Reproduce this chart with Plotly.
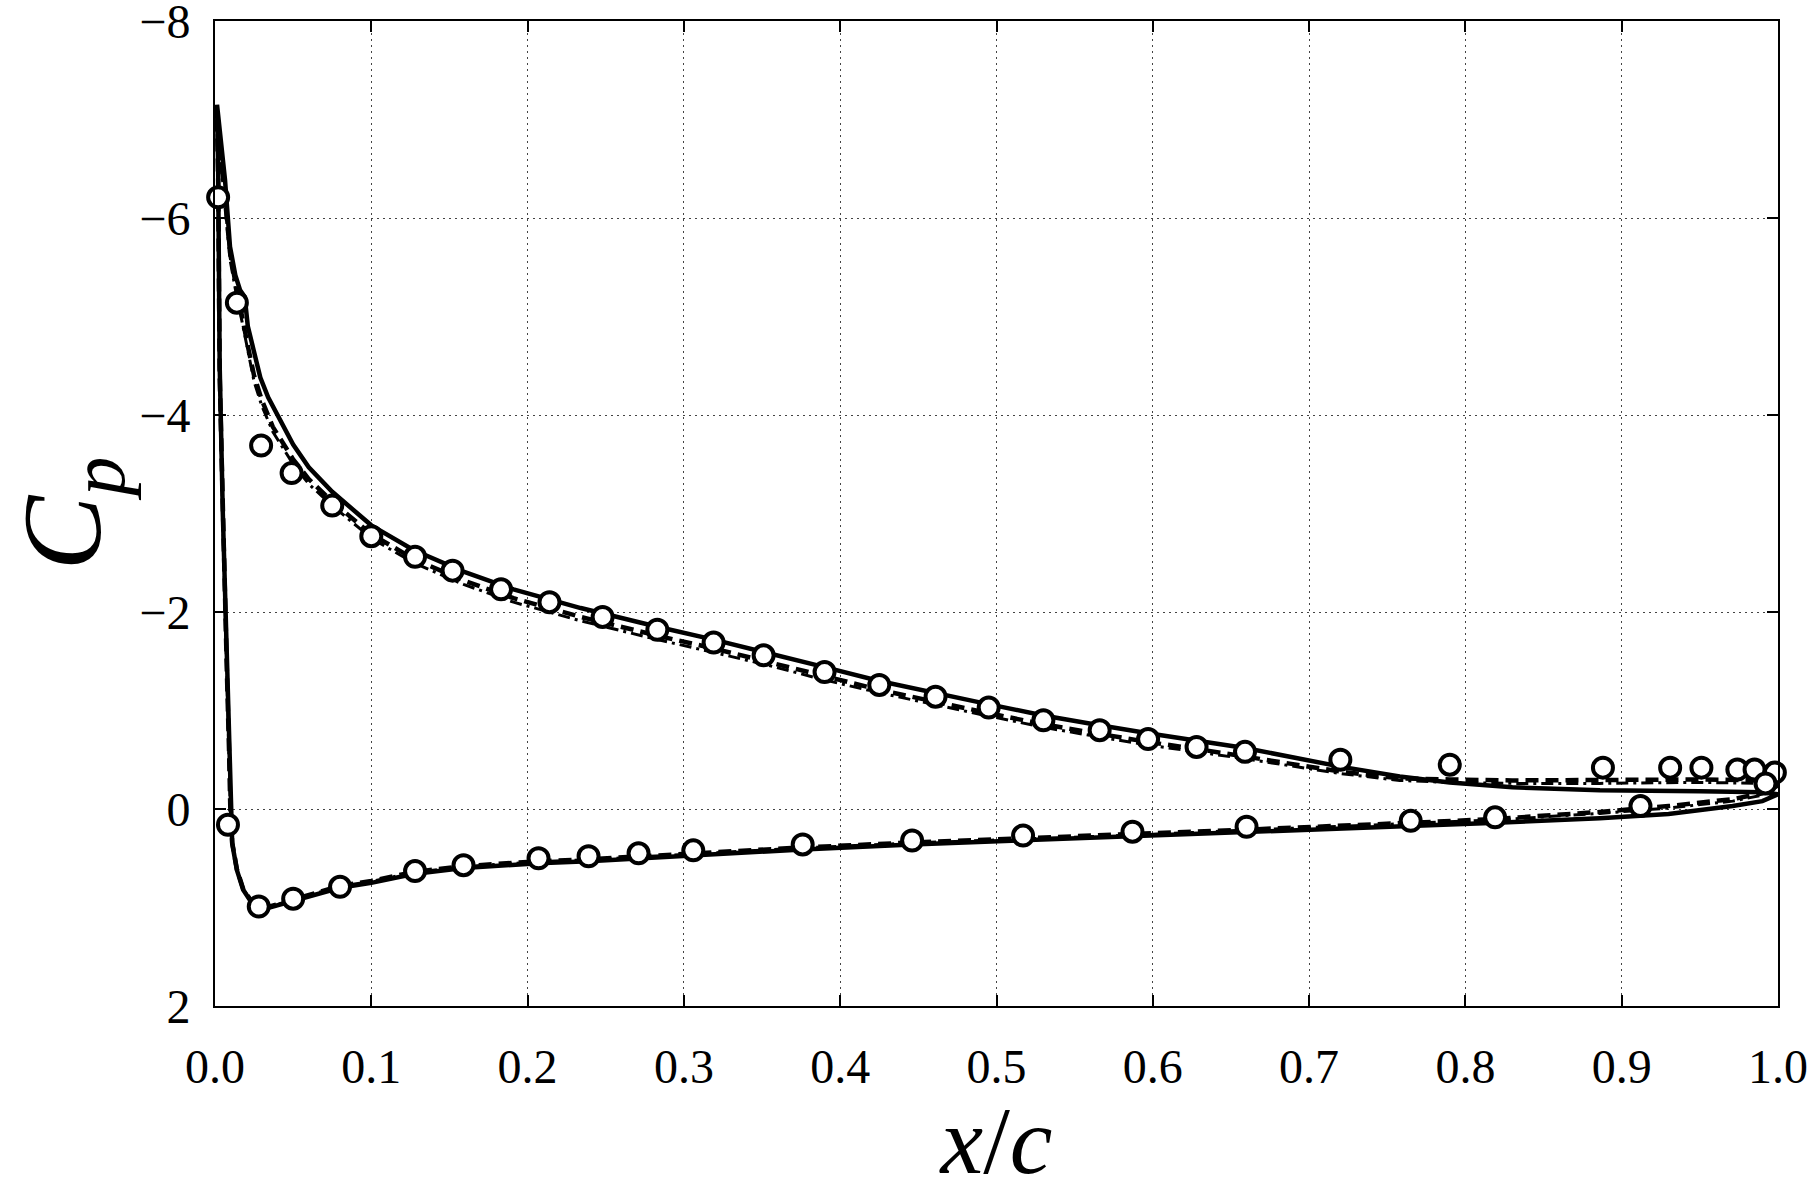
import plotly.graph_objects as go

# ---------------- data ----------------
# experiment (open circles)
exp_x_upper = [0.002, 0.014, 0.0295, 0.049, 0.075, 0.100, 0.128, 0.152, 0.183, 0.214, 0.248, 0.283, 0.319,
               0.351, 0.390, 0.425, 0.461, 0.495, 0.530, 0.566, 0.597, 0.628, 0.659, 0.720, 0.790, 0.888,
               0.931, 0.951, 0.974, 0.985, 0.998]
exp_cp_upper = [-6.21, -5.14, -3.69, -3.41, -3.08, -2.77, -2.56, -2.42, -2.23, -2.10, -1.95, -1.82, -1.69,
                -1.56, -1.39, -1.26, -1.14, -1.03, -0.90, -0.80, -0.71, -0.63, -0.58, -0.50, -0.45, -0.42,
                -0.42, -0.42, -0.40, -0.40, -0.37]
exp_x_lower = [0.0083, 0.028, 0.050, 0.080, 0.128, 0.159, 0.207, 0.239, 0.271, 0.306, 0.376, 0.446, 0.517,
               0.587, 0.660, 0.765, 0.819, 0.912, 0.992]
exp_cp_lower = [0.16, 0.99, 0.91, 0.79, 0.63, 0.57, 0.50, 0.48, 0.45, 0.42, 0.36, 0.32, 0.27,
                0.23, 0.18, 0.12, 0.085, -0.03, -0.26]

# model A (solid)
sol_x_up = [0.0013, 0.004, 0.0064, 0.0096, 0.013, 0.016, 0.019, 0.021, 0.025, 0.029, 0.034, 0.040, 0.050,
            0.060, 0.075, 0.100, 0.127, 0.159, 0.191, 0.234, 0.283, 0.319, 0.351, 0.390, 0.425, 0.461,
            0.490, 0.530, 0.566, 0.597, 0.628, 0.659, 0.720, 0.758, 0.790, 0.830, 0.886, 0.950, 0.990, 1.000]
sol_cp_up = [-7.15, -6.75, -6.39, -5.71, -5.42, -5.27, -5.20, -4.90, -4.62, -4.38, -4.18, -4.00, -3.70,
             -3.47, -3.22, -2.88, -2.63, -2.41, -2.23, -2.04, -1.85, -1.72, -1.60, -1.44, -1.30, -1.18,
             -1.08, -0.95, -0.85, -0.77, -0.69, -0.62, -0.43, -0.33, -0.27, -0.22, -0.19, -0.18, -0.17, -0.15]
sol_x_lo = [0.0013, 0.002, 0.003, 0.005, 0.0075, 0.009, 0.0098, 0.011, 0.014, 0.018, 0.023, 0.028, 0.035,
            0.050, 0.080, 0.100, 0.127, 0.159, 0.207, 0.239, 0.306, 0.376, 0.446, 0.517, 0.587, 0.659,
            0.765, 0.820, 0.886, 0.930, 0.971, 0.990, 1.000]
sol_cp_lo = [-7.15, -6.5, -4.5, -3.0, -1.5, -0.6, 0.0, 0.35, 0.62, 0.82, 0.94, 0.99, 1.00,
             0.93, 0.80, 0.75, 0.66, 0.60, 0.55, 0.53, 0.47, 0.41, 0.36, 0.32, 0.28, 0.23,
             0.175, 0.14, 0.095, 0.05, -0.03, -0.08, -0.15]

# model B (dashed)
das_x_up = [0.0013, 0.004, 0.0064, 0.0096, 0.013, 0.016, 0.018, 0.021, 0.025, 0.030, 0.037, 0.050, 0.060,
            0.075, 0.100, 0.127, 0.159, 0.191, 0.234, 0.283, 0.319, 0.351, 0.390, 0.425, 0.461, 0.490,
            0.530, 0.566, 0.597, 0.628, 0.659, 0.720, 0.758, 0.790, 0.830, 0.886, 0.950, 0.990, 1.000]
das_cp_up = [-7.0, -6.6, -6.25, -5.65, -5.35, -5.1, -4.93, -4.7, -4.4, -4.15, -3.88, -3.55, -3.35,
             -3.12, -2.79, -2.54, -2.32, -2.14, -1.95, -1.76, -1.63, -1.51, -1.35, -1.21, -1.09, -0.99,
             -0.86, -0.76, -0.68, -0.61, -0.54, -0.38, -0.31, -0.30, -0.29, -0.29, -0.30, -0.29, -0.25]
das_cp_lo = [-7.0, -6.4, -4.4, -2.95, -1.45, -0.58, 0.0, 0.34, 0.61, 0.81, 0.93, 0.98, 0.99,
             0.92, 0.78, 0.73, 0.64, 0.58, 0.53, 0.51, 0.45, 0.39, 0.34, 0.30, 0.26, 0.21,
             0.14, 0.10, 0.03, -0.03, -0.10, -0.16, -0.25]

# model C (dash-dot)
dd_cp_up = [-6.9, -6.5, -6.15, -5.58, -5.28, -5.05, -4.88, -4.64, -4.34, -4.09, -3.83, -3.50, -3.30,
            -3.08, -2.75, -2.50, -2.28, -2.10, -1.91, -1.72, -1.59, -1.47, -1.31, -1.18, -1.06, -0.96,
            -0.83, -0.73, -0.65, -0.58, -0.51, -0.36, -0.29, -0.27, -0.26, -0.26, -0.27, -0.26, -0.23]
dd_cp_lo = [-6.9, -6.3, -4.35, -2.9, -1.42, -0.56, 0.0, 0.34, 0.61, 0.81, 0.93, 0.98, 0.99,
            0.92, 0.785, 0.735, 0.645, 0.585, 0.535, 0.515, 0.455, 0.395, 0.345, 0.305, 0.265, 0.215,
            0.15, 0.11, 0.045, -0.01, -0.08, -0.14, -0.23]

x_ticks = [0.0, 0.1, 0.2, 0.3, 0.4, 0.5, 0.6, 0.7, 0.8, 0.9, 1.0]
x_tick_text = ["0.0", "0.1", "0.2", "0.3", "0.4", "0.5", "0.6", "0.7", "0.8", "0.9", "1.0"]
y_ticks = [-8, -6, -4, -2, 0, 2]
y_tick_text = ["\u22128", "\u22126", "\u22124", "\u22122", "0", "2"]


def loop(xu, cu, xl, cl):
    return list(reversed(xu)) + xl[1:], list(reversed(cu)) + cl[1:]


fig = go.Figure()

xs, cs = loop(das_x_up, dd_cp_up, sol_x_lo, dd_cp_lo)
fig.add_trace(go.Scatter(x=xs, y=cs, mode="lines",
                         line=dict(color="black", width=3, dash="12px,5px,3px,5px")))
xs, cs = loop(das_x_up, das_cp_up, sol_x_lo, das_cp_lo)
fig.add_trace(go.Scatter(x=xs, y=cs, mode="lines",
                         line=dict(color="black", width=4.5, dash="13px,7px")))
xs, cs = loop(sol_x_up, sol_cp_up, sol_x_lo, sol_cp_lo)
fig.add_trace(go.Scatter(x=xs, y=cs, mode="lines",
                         line=dict(color="black", width=4.5)))

fig.add_trace(go.Scatter(x=exp_x_upper + exp_x_lower, y=exp_cp_upper + exp_cp_lower, mode="markers",
                         marker=dict(symbol="circle", size=20, color="white",
                                     line=dict(color="black", width=4)),
                         cliponaxis=False))

font_family = "Liberation Serif"
axis_common = dict(showline=True, linecolor="black", linewidth=2, mirror="ticks",
                   ticks="inside", ticklen=11, tickwidth=1.5, tickcolor="black",
                   showgrid=True, gridcolor="#444", gridwidth=1.3, griddash="2px,4px",
                   zeroline=False, ticklabeloverflow="allow", automargin=False,
                   tickfont=dict(family=font_family, size=48, color="black"))

fig.update_xaxes(range=[0, 1], tickvals=x_ticks, ticktext=x_tick_text,
                 ticklabelstandoff=17,
                 title=dict(text="<i>x</i>/<i>c</i>", font=dict(family=font_family, size=96, color="black"),
                            standoff=14),
                 **axis_common)
fig.update_yaxes(range=[2, -8], tickvals=y_ticks, ticktext=y_tick_text,
                 ticklabelstandoff=13,
                 title=dict(text="<i>C</i><sub><i>p</i></sub>",
                            font=dict(family=font_family, size=112, color="black"), standoff=6),
                 **axis_common)

fig.update_layout(width=1809, height=1194, autosize=False,
                  margin=dict(l=215, r=31, t=21, b=188, autoexpand=False),
                  plot_bgcolor="white", paper_bgcolor="white", showlegend=False)

fig.write_html("out.html")
